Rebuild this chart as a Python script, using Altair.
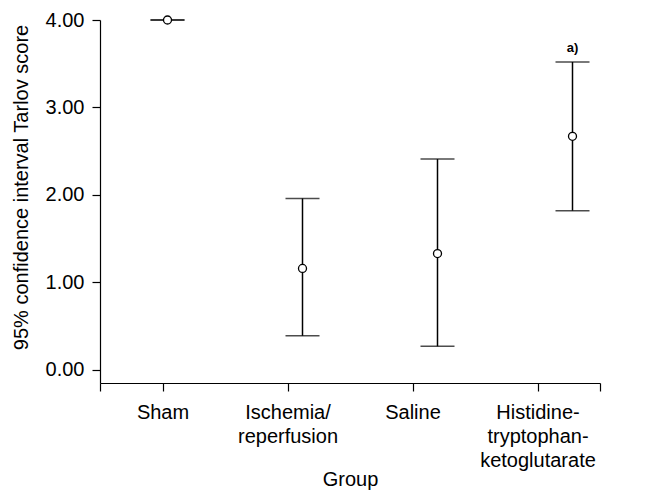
import altair as alt
import pandas as pd

groups = ["Sham", "Ischemia/\nreperfusion", "Saline", "Histidine-\ntryptophan-\nketoglutarate"]
means = [4.00, 1.16, 1.33, 2.67]
lower = [4.00, 0.39, 0.27, 1.82]
upper = [4.00, 1.96, 2.41, 3.52]
notes = ["", "", "", "a)"]
y_ticks = [0, 1, 2, 3, 4]
y_domain = [-0.15, 4.0]
end_ticks = [0, 1]

df = pd.DataFrame({"group": groups, "mean": means, "lower": lower,
                   "upper": upper, "note": notes})
ends = pd.DataFrame({"v": end_ticks})

FONT = "Liberation Sans"
ysc = alt.Scale(domain=y_domain, nice=False, zero=False)

yaxis = alt.Axis(values=y_ticks, format=".2f", tickSize=8, labelPadding=8,
                 labelFontSize=20, title="95% confidence interval Tarlov score",
                 titleFontSize=20, titleFontWeight="normal", titlePadding=14,
                 titleY=167, grid=False, domainColor="black", tickColor="black",
                 labelColor="black", titleColor="black", domainWidth=1.2, tickWidth=1.2)

def Y(field):
    return alt.Y(field, scale=ysc, axis=yaxis)

# Category axis layer
axis_layer = alt.Chart(df).mark_point(opacity=0).encode(
    x=alt.X("group:N", sort=groups,
            scale=alt.Scale(type="point", padding=0.5),
            axis=alt.Axis(orient="bottom", title="Group", titleFontSize=20,
                          titleFontWeight="normal", titleY=102, titleBaseline="alphabetic",
                          labelFontSize=20, labelLineHeight=24, labelBaseline="alphabetic",
                          labelPadding=27, tickSize=8, labelAngle=0,
                          labelExpr="split(datum.label, '\\n')",
                          domainColor="black", tickColor="black", labelColor="black",
                          titleColor="black", domainWidth=1.2, tickWidth=1.2, grid=False)),
    y=Y("mean:Q"),
)

# End ticks of the x axis
end_layer = alt.Chart(ends).mark_point(opacity=0).encode(
    x=alt.X("v:Q", scale=alt.Scale(domain=[0, 1], nice=False, zero=False),
            axis=alt.Axis(orient="bottom", values=end_ticks, labels=False, domain=False,
                          ticks=True, tickSize=8, tickColor="black", tickWidth=1.2,
                          title=None, grid=False)),
)

xb = alt.X("group:N", sort=groups,
           scale=alt.Scale(type="point", padding=0.5, range=[0, 540]), axis=None)

base = alt.Chart(df)
rule = base.mark_rule(color="black", strokeWidth=1.5).encode(
    x=xb, y=Y("lower:Q"), y2="upper:Q")
cap_lo = base.mark_tick(color="black", size=34, thickness=1.5).encode(
    x=xb, y=Y("lower:Q"))
cap_hi = base.mark_tick(color="black", size=34, thickness=1.5).encode(
    x=xb, y=Y("upper:Q"))
pts = base.mark_point(shape="circle", filled=True, fill="white", stroke="black",
                      strokeWidth=1.3, size=64, opacity=1).encode(
    x=xb, y=Y("mean:Q"))
txt = base.mark_text(dy=-10, baseline="alphabetic", fontWeight="bold", fontSize=13,
                     color="black", font=FONT).encode(
    x=xb, y=Y("upper:Q"), text="note:N")

bars = alt.layer(rule, cap_lo, cap_hi, pts, txt)

chart = alt.layer(axis_layer, end_layer, bars).resolve_scale(x="independent").properties(
    width=500, height=363,
    autosize=alt.AutoSizeParams(type="none"),
    padding={"left": 92, "top": 12, "right": 46, "bottom": 110},
).configure(
    font=FONT, background="white",
    view=alt.ViewConfig(strokeWidth=0, stroke="transparent"),
)

chart.save("out.html", embed_options={"renderer": "svg", "actions": False})
